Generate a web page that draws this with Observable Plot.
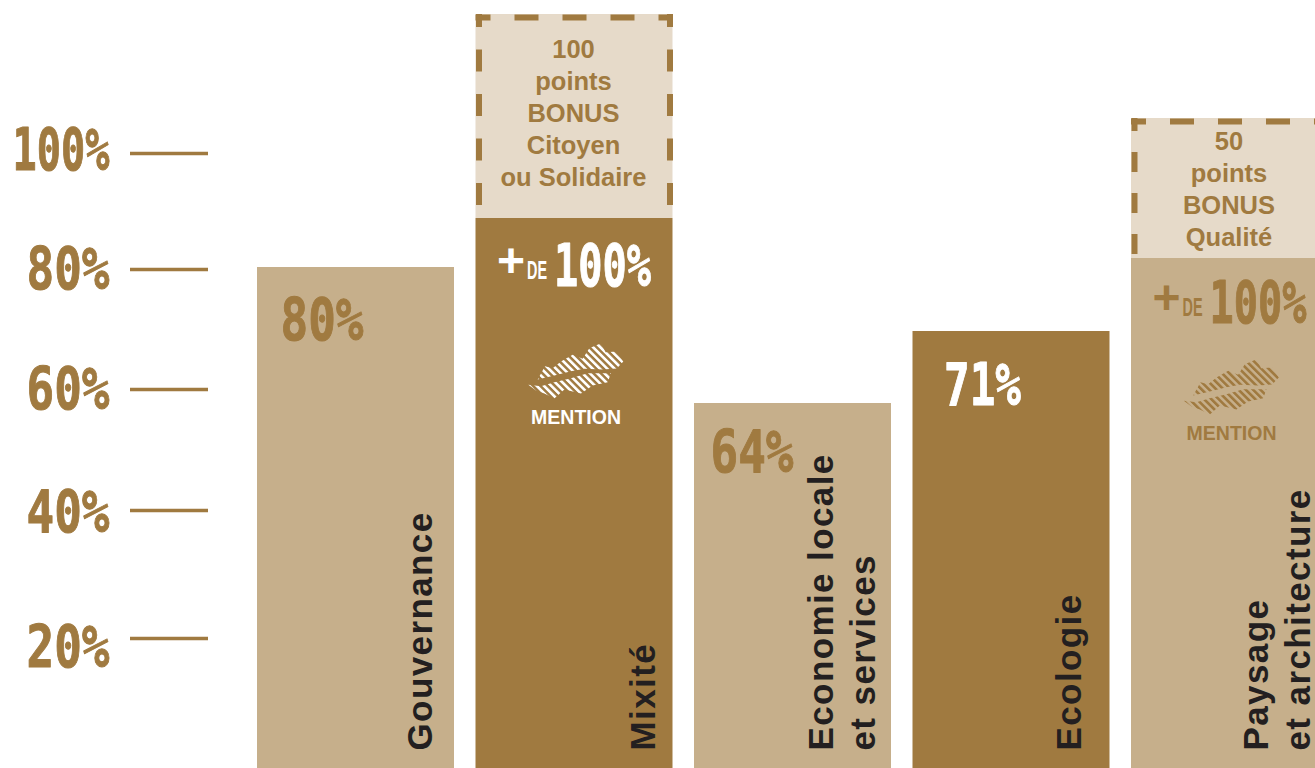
<!DOCTYPE html>
<html lang="fr">
<head>
<meta charset="utf-8">
<title>Scores par thème</title>
<script src="https://cdn.jsdelivr.net/npm/d3@7"></script>
<script src="https://cdn.jsdelivr.net/npm/@observablehq/plot@0.6"></script>
<style>
  html, body { margin: 0; padding: 0; background: #fff; overflow: hidden; }
  #chart { position: relative; width: 1315px; height: 768px; }
  #chart svg { position: absolute; left: 0; top: 0; display: block; }
</style>
</head>
<body>
<div id="chart"></div>
<script>
// Themes and their scores, in percent
const categories = ["Gouvernance", "Mixité", "Economie locale\net services", "Ecologie", "Paysage\net architecture"];
const scores = [80, 108, 64, 71, 102];
const scoreLabels = ["80%", "100%", "64%", "71%", "100%"];
const withMention = [false, true, false, false, true];

// Bonus points stacked on top of two of the themes
const bonusPoints = [0, 100, 0, 0, 50];
const bonusLabels = ["", "100\npoints\nBONUS\nCitoyen\nou Solidaire", "", "", "50\npoints\nBONUS\nQualité"];

// Graduations of the left-hand axis
const axisTicks = [20, 40, 60, 80, 100];

// Palette
const DARK = "#a07a40";
const LIGHT = "#c6af8b";
const PALE = "#e6dac9";
const INK = "#231f20";
const barFills = [LIGHT, DARK, LIGHT, DARK, LIGHT];
const scoreFills = [DARK, "#fff", DARK, "#fff", DARK];
const mentionFills = [DARK, "#fff", DARK, DARK, DARK];

const BAR = 0.9016; // bar width, in slots
const rows = categories.map((name, i) => ({
  name, i,
  score: scores[i],
  top: scores[i] + bonusPoints[i],
  bonus: bonusPoints[i],
  bonusLabel: bonusLabels[i],
  scoreLabel: scoreLabels[i],
  mention: withMention[i],
  fill: barFills[i],
  ink: scoreFills[i],
  mentionInk: mentionFills[i]
}));

// Hatched oak leaf used as the "mention" badge
const leaf = (color) => "data:image/svg+xml," + encodeURIComponent(
  `<svg xmlns="http://www.w3.org/2000/svg" viewBox="0 0 330 210"><defs>` +
  `<pattern id="h" width="15.5" height="15.5" patternUnits="userSpaceOnUse" patternTransform="rotate(-45)">` +
  `<rect width="8" height="15.5" fill="${color}"/></pattern></defs>` +
  `<path fill="url(#h)" d="M50 132L72 92L95 98L120 78L155 58L185 70L205 38L240 23L254 50L287 48L307 78L287 99L245 102L190 100L150 107L100 120Z"/>` +
  `<path fill="url(#h)" d="M22 148L60 152L100 140L150 128L200 113L270 113L260 140L215 150L180 174L130 162L100 189L70 174L45 165Z"/>` +
  `</svg>`);

const SANS = "'Liberation Sans', Arial, sans-serif";
const MONO = "'DejaVu Sans Mono', monospace";

const display = (data, options) => Plot.text(data, {
  fontFamily: MONO, fontWeight: 700, fontSize: 58, strokeWidth: 1, lineAnchor: "middle", ...options
});

const scored = rows.filter((d) => !d.mention);
const boosted = rows.filter((d) => d.mention);
const boxed = rows.filter((d) => d.bonus > 0);

// Dashed frame of a bonus box: top, left and right sides only
const frame = (d, period, dash) => {
  const side = {y1: () => d.top, y2: () => d.score, stroke: DARK, strokeWidth: 6,
    strokeDasharray: `${dash} ${period - dash}`, strokeDashoffset: dash - 13};
  return [
    Plot.ruleY([d], {x1: (r) => r.i, x2: (r) => r.i + BAR, y: "top", dy: 3, stroke: DARK, strokeWidth: 6,
      strokeDasharray: "24 24", strokeDashoffset: 9}),
    Plot.ruleX([d], {x: "i", dx: 3, ...side}),
    Plot.ruleX([d], {x: (r) => r.i + BAR, dx: -3, ...side})
  ];
};

const barsPlot = Plot.plot({
  width: 1315, height: 768,
  margin: 0,
  style: {background: "transparent"},
  x: {axis: null, type: "linear", domain: [0, 5], range: [257, 1349.5]},
  // The bars of this infographic are not drawn to a strict proportion: the scale passes through each stated value
  y: {axis: null, type: "linear",
      domain: [0, 64, 71, 80, 102, 108, 152, 208],
      range: [768, 403, 331, 267, 258, 218, 118, 14]},
  marks: [
    Plot.rect(rows, {x1: "i", x2: (d) => d.i + BAR, y1: 0, y2: "score", fill: "fill"}),
    Plot.rect(boxed, {x1: "i", x2: (d) => d.i + BAR, y1: "score", y2: "top", fill: PALE}),
    ...frame(boxed[0], 44.5, 22),
    ...frame(boxed[1], 41, 20),

    // Bonus captions
    ...boxed.map((d) => Plot.text([d], {
      x: (r) => r.i + BAR / 2, y: "top", text: "bonusLabel", dy: d.i === 1 ? 21 : 9, dx: -1,
      lineAnchor: "top", lineHeight: 1.25, fontFamily: SANS, fontWeight: 700, fontSize: 25.5, fill: DARK
    })),

    // Score figures
    display(scored.filter((d) => d.i === 0), {x: "i", y: "score", text: "scoreLabel", dx: 106, dy: 54, textAnchor: "end", fill: "ink", stroke: "ink"}),
    display(scored.filter((d) => d.i === 2), {x: "i", y: "score", text: "scoreLabel", dx: 99, dy: 50, textAnchor: "end", fill: "ink", stroke: "ink"}),
    display(scored.filter((d) => d.i === 3), {x: "i", y: "score", text: "scoreLabel", dx: 108, dy: 55, textAnchor: "end", fill: "ink", stroke: "ink"}),

    // "+ de 100%" and the mention badge
    ...boosted.flatMap((d) => {
      const dy = d.i === 1 ? 49 : 46;
      const at = {x: "i", y: "score"};
      return [
        Plot.text([d], {...at, text: () => "+", dx: 35, dy: dy - 6, fontFamily: SANS, fontWeight: 700, fontSize: 48, lineAnchor: "middle", fill: "ink"}),
        Plot.text([d], {...at, text: () => "DE", dx: 61, dy: dy + 3, fontFamily: SANS, fontWeight: 700, fontSize: 25, lineAnchor: "middle", fill: "ink"}),
        display([d], {...at, text: "scoreLabel", dx: 175, dy, textAnchor: "end", fill: "ink", stroke: "ink"}),
        Plot.image([d], {...at, src: () => leaf(d.i === 1 ? "#fff" : DARK), width: 110, height: 70, dx: 100, dy: d.i === 1 ? 152 : 128}),
        Plot.text([d], {...at, text: () => "MENTION", dx: 100, dy: d.i === 1 ? 199 : 175, fontFamily: SANS, fontWeight: 700, fontSize: 19.5, lineAnchor: "middle", fill: "mentionInk"})
      ];
    }),

    // Theme names, read bottom to top
    ...rows.map((d) => Plot.text([d], {
      x: "i", y: () => 0, text: "name", rotate: -90, textAnchor: "start", lineAnchor: "middle",
      dx: [161, 166, 146, 155, 144][d.i], dy: -18,
      lineHeight: 1.2, fontFamily: SANS, fontWeight: 700, fontSize: 35, fill: INK
    }))
  ]
});

// The graduations sit on their own scale, independent from the bars
const axisPlot = Plot.plot({
  width: 1315, height: 768,
  margin: 0,
  style: {background: "transparent"},
  x: {axis: null, type: "linear", domain: [0, 1], range: [130, 208]},
  y: {axis: null, type: "linear", domain: axisTicks, range: [638, 510, 389, 269, 153]},
  marks: [
    Plot.ruleY(axisTicks, {x1: () => 0, x2: () => 1, y: (d) => d, stroke: DARK, strokeWidth: 3.5}),
    ...axisTicks.map((t) => display([t], {
      x: () => 0, y: (d) => d, text: (d) => d + "%", dx: -21,
      dy: t === 20 ? 10 : t === 100 ? -2 : t === 40 ? 3 : 1,
      textAnchor: "end", fill: DARK, stroke: DARK
    }))
  ]
});

// Condense the figures to the narrow look of the display lettering; open up the theme names
const condensed = {"100%": 97, "80%": 83, "60%": 83, "40%": 83, "20%": 83, "64%": 83, "71%": 77, "DE": 20};
for (const svg of [barsPlot, axisPlot]) {
  for (const t of svg.querySelectorAll("text")) {
    const length = condensed[t.textContent];
    if (length) {
      t.setAttribute("textLength", length);
      t.setAttribute("lengthAdjust", "spacingAndGlyphs");
    }
  }
}
for (const g of barsPlot.querySelectorAll('g[font-size="35"]')) g.style.letterSpacing = "1.4px";

const chart = document.getElementById("chart");
chart.append(barsPlot, axisPlot);
</script>
</body>
</html>
